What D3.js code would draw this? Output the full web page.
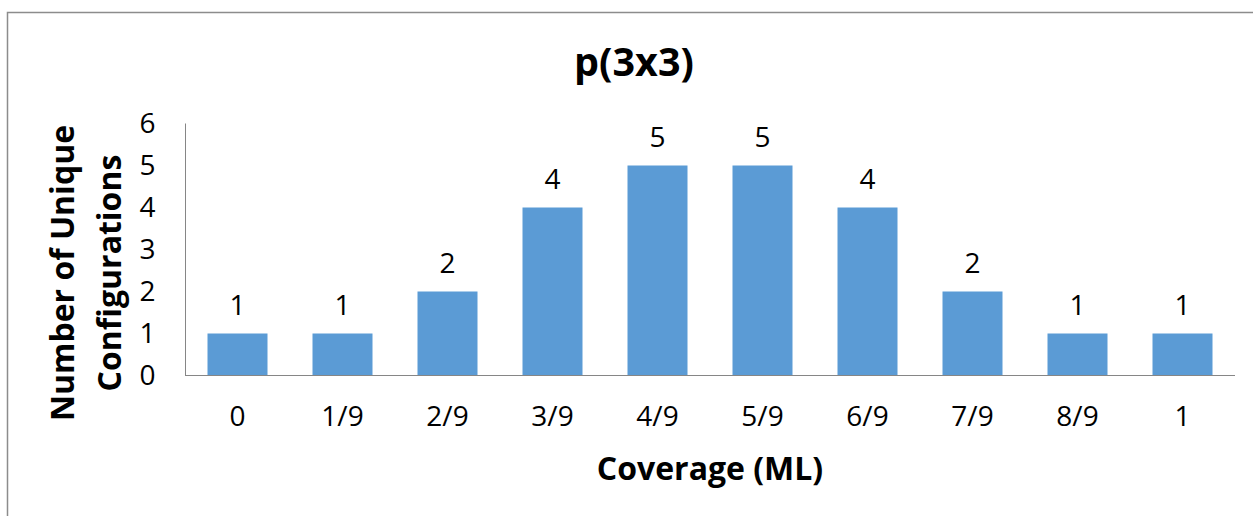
<!DOCTYPE html>
<html><head><meta charset="utf-8">
<script src="https://cdn.jsdelivr.net/npm/d3@7"></script>
<style>
html,body{margin:0;padding:0;background:#fff;}
svg{display:block;}
text{font-family:"Open Sans",sans-serif;fill:#000;}
</style></head>
<body>
<svg id="chart" width="1253" height="516"></svg>
<script>
const categories = ["0","1/9","2/9","3/9","4/9","5/9","6/9","7/9","8/9","1"];
const values = [1,1,2,4,5,5,4,2,1,1];
const yTicks = [0,1,2,3,4,5,6];
const titleText = "p(3x3)";
const xTitle = "Coverage (ML)";
const yTitleLines = ["Number of Unique","Configurations"];

const svg = d3.select("#chart");
svg.append("rect").attr("x",7.5).attr("y",12.5).attr("width",1260).attr("height",520)
  .attr("fill","#fff").attr("stroke","#8c8c8c").attr("stroke-width",1.5);

const x = d3.scaleBand().domain(categories).range([185,1235]).paddingInner(0.4286).paddingOuter(0.2143);
const y = d3.scaleLinear().domain([0,6]).range([375.5,123.5]);

// bars
svg.append("g").selectAll("rect").data(values).join("rect")
  .attr("x",(d,i)=>x(categories[i])).attr("width",x.bandwidth())
  .attr("y",d=>y(d)).attr("height",d=>y(0)-y(d)).attr("fill","#5B9BD5");

// axes
const yAxis = svg.append("g").attr("transform","translate(185.5,0)")
  .call(d3.axisLeft(y).tickValues(yTicks).tickSize(0).tickPadding(30).tickFormat(d3.format("d")));
yAxis.select(".domain").attr("stroke","#868686").attr("d","M0,"+y(6)+"V"+y(0));
yAxis.selectAll("text").attr("font-size",28).attr("font-family","Open Sans");

const xAxis = svg.append("g").attr("transform","translate(0,"+y(0)+")")
  .call(d3.axisBottom(x).tickSize(0).tickPadding(31));
xAxis.select(".domain").attr("stroke","#868686").attr("d","M185,0H1235");
xAxis.selectAll("text").attr("font-size",28).attr("font-family","Open Sans");

// value labels
svg.append("g").selectAll("text").data(values).join("text")
  .attr("x",(d,i)=>x(categories[i])+x.bandwidth()/2).attr("y",d=>y(d)-18.5)
  .attr("text-anchor","middle").attr("font-size",28).text(d=>d);

// titles
svg.append("text").attr("x",634).attr("y",76).attr("text-anchor","middle")
  .attr("font-size",39.5).attr("font-weight","bold").text(titleText);
svg.append("text").attr("x",710).attr("y",480).attr("text-anchor","middle")
  .attr("font-size",32).attr("font-weight","bold").text(xTitle);
const yt = svg.append("text").attr("transform","translate(74,273) rotate(-90)")
  .attr("text-anchor","middle").attr("font-size",32).attr("font-weight","bold");
yTitleLines.forEach((t,i)=>yt.append("tspan").attr("x",0).attr("dy",i===0?0:47).text(t));
</script>
</body></html>
